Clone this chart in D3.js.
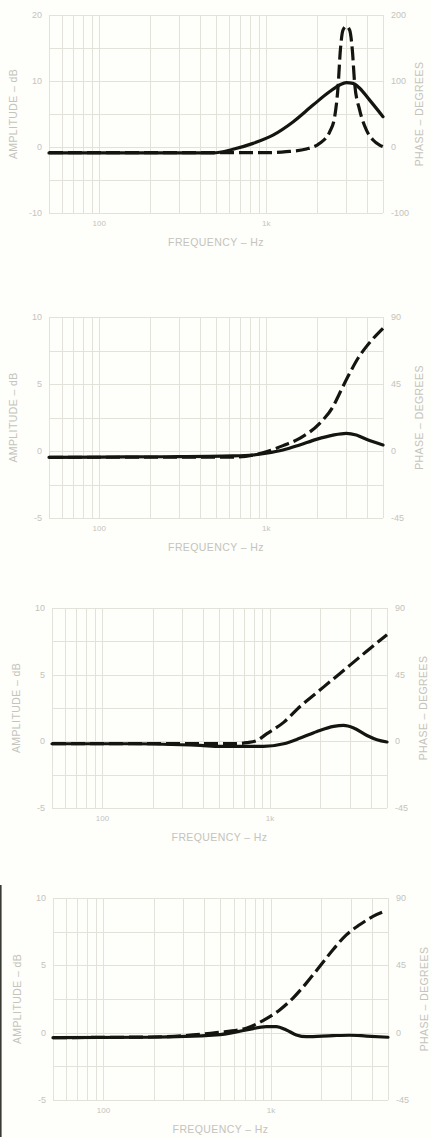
<!DOCTYPE html>
<html>
<head>
<meta charset="utf-8">
<script src="https://cdn.jsdelivr.net/npm/d3@7"></script>
<style>
  html, body { margin: 0; padding: 0; background: #fefefb; }
  svg { display: block; }
  text { font-family: "Liberation Sans", Arial, sans-serif; fill: #c4c4bc; }
</style>
</head>
<body>
<svg id="chart" width="431" height="1137"></svg>
<script>
// ---------- DATA ----------
const freqGrid = [50, 60, 70, 80, 90, 100, 200, 300, 400, 500, 600, 700, 800, 900, 1000, 2000, 3000, 4000, 5000];
const freqLabels = [100, 1000];
const freqLabelText = ["100", "1k"];

const ampTicksA = [20, 10, 0, -10];
const phaseTicksA = [200, 100, 0, -100];
const ampTicksB = [10, 5, 0, -5];
const phaseTicksB = [90, 45, 0, -45];

// Panel 1 (amplitude dB / phase deg)
const amp1 = [[50, -0.9], [480, -0.9], [632, -0.35], [834, 0.55], [1097, 1.8], [1445, 3.8], [1905, 6.35],
  [2400, 8.4], [2750, 9.4], [3016, 9.75], [3305, 9.65], [3625, 8.9], [4160, 7.1], [5000, 4.6]];
const phase1 = [[50, -8.6], [1000, -8.6], [1318, -7.1], [1737, -3], [2089, 5.6], [2398, 23], [2569, 46],
  [2690, 91], [2778, 147], [2879, 177], [3016, 183], [3157, 177], [3276, 147], [3383, 96], [3625, 56],
  [3974, 26], [4358, 10.6], [4776, 3], [5000, 0.5]];

// Panel 2
const amp2 = [[50, -0.47], [101, -0.45], [252, -0.43], [632, -0.37], [834, -0.3], [1000, -0.17], [1260, 0.07],
  [1585, 0.45], [1994, 0.87], [2510, 1.19], [3016, 1.32], [3461, 1.19], [3974, 0.87], [5000, 0.45]];
const phase2 = [[50, -4.2], [632, -4.2], [834, -2.7], [1000, -0.5], [1260, 3.6], [1585, 8.5], [2089, 18.6],
  [2510, 29.8], [2751, 38.8], [3158, 52.2], [3543, 62.3], [3974, 70.1], [5000, 82.4]];

// Panel 3
const amp3 = [[50, -0.18], [154, -0.18], [384, -0.31], [506, -0.38], [607, -0.38], [917, -0.38], [1208, -0.18],
  [1519, 0.25], [1910, 0.74], [2402, 1.12], [2756, 1.19], [3162, 1.0], [3798, 0.44], [4357, 0.12], [5000, -0.05]];
const phase3 = [[50, -1.6], [607, -1.6], [730, -0.9], [837, 0.6], [960, 5.2], [1208, 12.8], [1519, 23.7],
  [1910, 33.0], [2402, 42.3], [3020, 51.6], [3798, 61.0], [5000, 72.0]];

// Panel 4
const amp4 = [[50, -0.37], [189, -0.34], [472, -0.17], [713, 0.2], [939, 0.45], [1077, 0.45], [1236, 0.2],
  [1418, -0.17], [1627, -0.3], [2347, -0.22], [2951, -0.19], [3712, -0.25], [5000, -0.34]];
const phase4 = [[50, -3.3], [189, -2.9], [472, 0.0], [713, 3.0], [897, 8.1], [1128, 15.2], [1355, 23.1],
  [1627, 33.1], [1954, 44.2], [2347, 55.4], [2820, 65.4], [3386, 72.1], [4067, 77.7], [4886, 81.5]];

// ---------- LAYOUT ----------
const panels = [
  { box: { l: 49, r: 383, t: 15, b: 213 }, ampDom: [-10, 20], phDom: [-100, 200], ampTicks: ampTicksA, phTicks: phaseTicksA, amp: amp1, phase: phase1 },
  { box: { l: 49, r: 383, t: 317, b: 518 }, ampDom: [-5, 10], phDom: [-45, 90], ampTicks: ampTicksB, phTicks: phaseTicksB, amp: amp2, phase: phase2 },
  { box: { l: 52, r: 387, t: 608, b: 808 }, ampDom: [-5, 10], phDom: [-45, 90], ampTicks: ampTicksB, phTicks: phaseTicksB, amp: amp3, phase: phase3 },
  { box: { l: 53, r: 388, t: 898, b: 1100 }, ampDom: [-5, 10], phDom: [-45, 90], ampTicks: ampTicksB, phTicks: phaseTicksB, amp: amp4, phase: phase4 }
];

const svg = d3.select("#chart");
svg.append("rect").attr("width", 431).attr("height", 1137).attr("fill", "#fefefb");

// scan edge bar at the lower left
svg.append("line").attr("x1", 0.8).attr("x2", 0.8).attr("y1", 885).attr("y2", 1137)
  .attr("stroke", "#3a3a34").attr("stroke-width", 1.6);

panels.forEach(p => {
  const b = p.box;
  const x = d3.scaleLog().domain([50, 5000]).range([b.l, b.r]);
  const yA = d3.scaleLinear().domain(p.ampDom).range([b.b, b.t]);
  const yP = d3.scaleLinear().domain(p.phDom).range([b.b, b.t]);
  const g = svg.append("g");

  // vertical grid (log frequency)
  const grid = g.append("g").attr("stroke", "#e2e2da").attr("stroke-width", 1);
  grid.selectAll("line.v").data(freqGrid).join("line")
    .attr("x1", d => Math.round(x(d)) + 0.5).attr("x2", d => Math.round(x(d)) + 0.5)
    .attr("y1", b.t).attr("y2", b.b);
  // horizontal grid (6 divisions)
  const hTicks = d3.range(7).map(i => p.ampDom[0] + i * (p.ampDom[1] - p.ampDom[0]) / 6);
  grid.selectAll("line.h").data(hTicks).join("line")
    .attr("x1", b.l).attr("x2", b.r)
    .attr("y1", d => Math.round(yA(d)) + 0.5).attr("y2", d => Math.round(yA(d)) + 0.5);

  // tick labels
  g.selectAll("text.al").data(p.ampTicks).join("text")
    .attr("x", b.l - 7).attr("y", d => yA(d) + 3).attr("text-anchor", "end")
    .attr("font-size", 9).text(d => d);
  g.selectAll("text.pl").data(p.phTicks).join("text")
    .attr("x", b.r + 8).attr("y", d => yP(d) + 3).attr("text-anchor", "start")
    .attr("font-size", 9).text(d => d);
  g.selectAll("text.fl").data(freqLabels).join("text")
    .attr("x", d => x(d)).attr("y", b.b + 13).attr("text-anchor", "middle")
    .attr("font-size", 8).text((d, i) => freqLabelText[i]);

  // axis titles
  const midY = (b.t + b.b) / 2;
  g.append("text").attr("transform", `translate(${b.l - 32},${midY}) rotate(-90)`)
    .attr("text-anchor", "middle").attr("font-size", 10.5).attr("letter-spacing", 0.4)
    .text("AMPLITUDE – dB");
  g.append("text").attr("transform", `translate(${b.r + 40},${midY}) rotate(-90)`)
    .attr("text-anchor", "middle").attr("font-size", 10.5).attr("letter-spacing", 0.4)
    .text("PHASE – DEGREES");
  g.append("text").attr("x", (b.l + b.r) / 2).attr("y", b.b + 33)
    .attr("text-anchor", "middle").attr("font-size", 10.5).attr("letter-spacing", 0.4)
    .text("FREQUENCY – Hz");

  // curves
  const lineA = d3.line().x(d => x(d[0])).y(d => yA(d[1])).curve(d3.curveMonotoneX);
  const lineP = d3.line().x(d => x(d[0])).y(d => yP(d[1])).curve(d3.curveMonotoneX);
  g.append("path").datum(p.phase).attr("d", lineP)
    .attr("fill", "none").attr("stroke", "#141410").attr("stroke-width", 3.2)
    .attr("stroke-dasharray", "14,5");
  g.append("path").datum(p.amp).attr("d", lineA)
    .attr("fill", "none").attr("stroke", "#141410").attr("stroke-width", 3.2)
    .attr("stroke-linecap", "round").attr("stroke-linejoin", "round");
});
</script>
</body>
</html>
